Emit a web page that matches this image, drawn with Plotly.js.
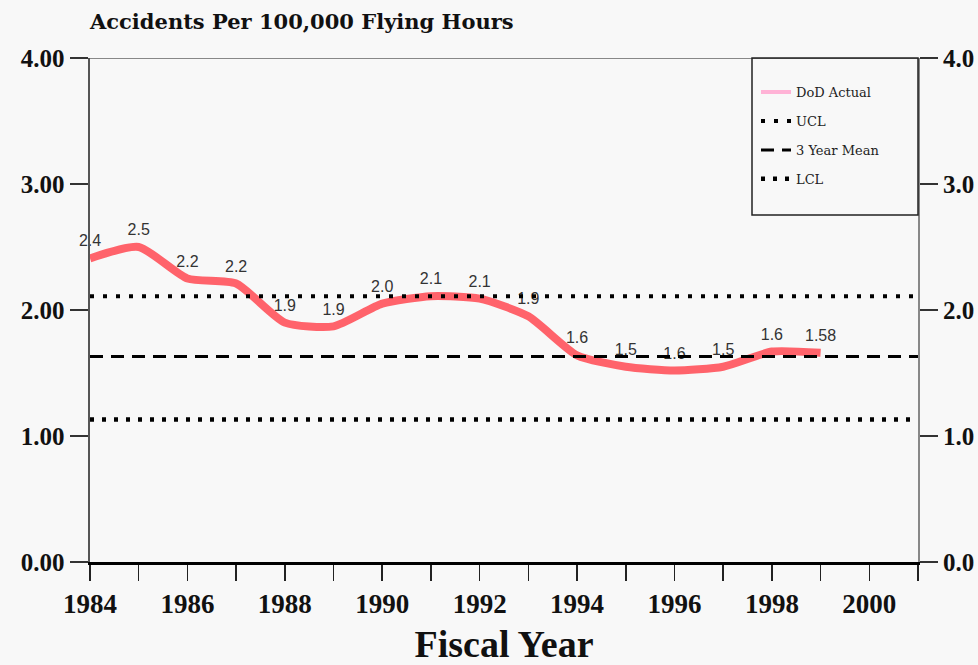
<!DOCTYPE html>
<html>
<head>
<meta charset="utf-8">
<script src="https://cdn.plot.ly/plotly-3.0.1.min.js"></script>
<style>html,body{margin:0;padding:0;background:#f8f8f8;}#chart{width:978px;height:665px;}</style>
</head>
<body>
<div id="chart"></div>
<script>
const years = [1984,1985,1986,1987,1988,1989,1990,1991,1992,1993,1994,1995,1996,1997,1998,1999];
const accidentRate = [2.41,2.50,2.25,2.21,1.90,1.87,2.05,2.11,2.09,1.95,1.64,1.55,1.52,1.55,1.67,1.66];
const rateLabels = ['2.4','2.5','2.2','2.2','1.9','1.9','2.0','2.1','2.1','1.9','1.6','1.5','1.6','1.5','1.6','1.58'];
const limitYears = [1984, 2001];
const ucl = 2.11;
const mean3yr = 1.63;
const lcl = 1.13;
const yTicks = [0,1,2,3,4];
const xTicks = [1984,1986,1988,1990,1992,1994,1996,1998,2000];

const serif = 'Liberation Serif, Times New Roman, serif';
const wideSerif = 'DejaVu Serif, serif';
const sans = 'Liberation Sans, Arial, sans-serif';

const traces = [
  {x: years, y: accidentRate, mode: 'lines+markers+text', text: rateLabels, textposition: 'top center',
   textfont: {family: sans, size: 16, color: '#333'},
   marker: {size: 11, opacity: 0}, cliponaxis: false,
   line: {color: '#ff636b', width: 8, shape: 'spline', smoothing: 0.6}, showlegend: false, hoverinfo: 'x+y'},
  {x: [null], y: [null], mode: 'lines', name: 'DoD Actual', line: {color: '#ffb3d6', width: 4},
   legendgroup: 'a', legendrank: 1},
  {x: limitYears, y: [ucl, ucl], mode: 'lines', name: 'UCL', yaxis: 'y2',
   line: {color: '#000', width: 4, dash: '4px,9px'}, legendgroup: 'b', legendrank: 2},
  {x: limitYears, y: [mean3yr, mean3yr], mode: 'lines', name: '3 Year Mean', yaxis: 'y2',
   line: {color: '#000', width: 3, dash: '13px,8px'}, legendgroup: 'c', legendrank: 3},
  {x: limitYears, y: [lcl, lcl], mode: 'lines', name: 'LCL', yaxis: 'y2',
   line: {color: '#000', width: 4.5, dash: '4px,8px'}, legendgroup: 'd', legendrank: 4}
];

const layout = {
  width: 978, height: 665,
  paper_bgcolor: '#f8f8f8', plot_bgcolor: '#f8f8f8',
  margin: {l: 90, r: 60, t: 58, b: 103},
  title: {text: 'Accidents Per 100,000 Flying Hours', x: 90/978, xanchor: 'left', xref: 'container',
          y: 1 - 22/665, yanchor: 'middle', yref: 'container',
          font: {family: wideSerif, size: 21, color: '#111', weight: 'bold'}},
  xaxis: {range: [1984, 2001], tickvals: xTicks, ticks: 'outside', ticklen: 16, tickwidth: 1.5, tickcolor: '#222',
          minor: {dtick: 1, tick0: 1984, ticks: 'outside', ticklen: 16, tickwidth: 1.5, tickcolor: '#222'},
          showgrid: false, zeroline: false, showline: true, linecolor: '#000', linewidth: 3,
          tickfont: {family: serif, size: 27, color: '#111', weight: 'bold'},
          title: {text: 'Fiscal Year', font: {family: serif, size: 38, color: '#111', weight: 'bold'}, standoff: 20}},
  yaxis: {range: [0, 4], tickvals: yTicks, tickformat: '.2f', ticks: 'outside', ticklen: 18, tickwidth: 1.5, tickcolor: '#333',
          showgrid: false, zeroline: false, showline: true, linecolor: '#555', linewidth: 2.5,
          tickfont: {family: serif, size: 25, color: '#111', weight: 'bold'}},
  yaxis2: {range: [0, 4], overlaying: 'y', side: 'right', tickvals: yTicks, tickformat: '.1f', ticks: 'outside', ticklen: 18,
          tickwidth: 1.5, tickcolor: '#333', showgrid: false, zeroline: false, showline: true, linecolor: '#888', linewidth: 2,
          tickfont: {family: serif, size: 25, color: '#111', weight: 'bold'}},
  shapes: [
    {type: 'line', xref: 'paper', yref: 'y', x0: 0, x1: 1, y0: 4, y1: 4, line: {color: '#888', width: 2}},
    {type: 'rect', xref: 'paper', yref: 'paper', x0: (752-90)/828, x1: 1, y0: (562-215)/504, y1: 1,
     line: {color: '#222', width: 1.5}, fillcolor: 'rgba(0,0,0,0)'}
  ],
  legend: {x: (756-90)/828, y: 0.962, xanchor: 'left', yanchor: 'top', bgcolor: 'rgba(0,0,0,0)', borderwidth: 0,
           traceorder: 'grouped', tracegroupgap: 9, itemwidth: 30,
           font: {family: wideSerif, size: 13, color: '#222'}},
  showlegend: true
};

Plotly.newPlot('chart', traces, layout, {displayModeBar: false, staticPlot: true});
</script>
</body>
</html>
